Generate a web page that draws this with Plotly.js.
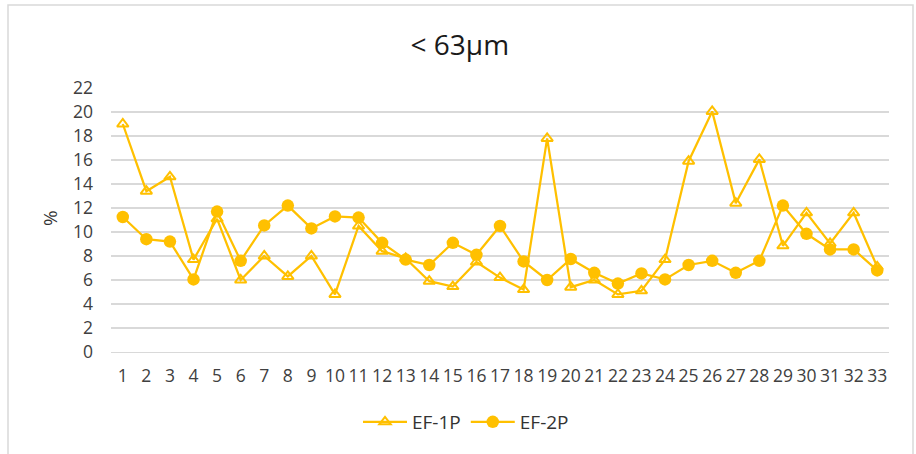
<!DOCTYPE html>
<html>
<head>
<meta charset="utf-8">
<script src="https://cdn.plot.ly/plotly-3.0.1.min.js"></script>
<style>
  html, body { margin: 0; padding: 0; background: #ffffff; }
  #chart { width: 916px; height: 454px; }
</style>
</head>
<body>
<div id="chart"></div>
<script>
const categories = ["1","2","3","4","5","6","7","8","9","10","11","12","13","14","15","16","17","18","19","20","21","22","23","24","25","26","27","28","29","30","31","32","33"];
const ef1p = [19.0, 13.4, 14.6, 7.7, 11.1, 6.0, 8.0, 6.3, 8.0, 4.8, 10.5, 8.4, 7.8, 5.9, 5.45, 7.5, 6.2, 5.2, 17.8, 5.4, 6.0, 4.8, 5.1, 7.7, 15.9, 20.05, 12.4, 16.05, 8.85, 11.6, 9.05, 11.6, 7.1];
const ef2p = [11.25, 9.4, 9.2, 6.05, 11.7, 7.6, 10.55, 12.2, 10.3, 11.3, 11.2, 9.1, 7.7, 7.25, 9.1, 8.1, 10.5, 7.55, 6.0, 7.75, 6.6, 5.7, 6.55, 6.05, 7.25, 7.6, 6.6, 7.6, 12.2, 9.85, 8.55, 8.55, 6.8];
const yTicks = [0, 2, 4, 6, 8, 10, 12, 14, 16, 18, 20, 22];

const gold = '#FFC000';
const FONT = '"Open Sans", Lato, sans-serif';

const traces = [
  {
    x: categories, y: ef1p, name: 'EF-1P', type: 'scatter', mode: 'lines+markers',
    line: { color: gold, width: 2.25 },
    marker: { symbol: 'triangle-up-open', size: 10, color: gold, line: { color: gold, width: 2 } }
  },
  {
    x: categories, y: ef2p, name: 'EF-2P', type: 'scatter', mode: 'lines+markers',
    line: { color: gold, width: 2.25 },
    marker: { symbol: 'circle', size: 12.5, color: gold, line: { width: 0 } }
  }
];

const L = 111, R = 889, T = 88, B = 352;
const pw = R - L, ph = B - T;
const px = v => (v - L) / pw;
const py = v => (B - v) / ph;

const layout = {
  width: 916, height: 454,
  margin: { l: L, r: 916 - R, t: T, b: 454 - B, pad: 0 },
  paper_bgcolor: '#ffffff', plot_bgcolor: '#ffffff',
  font: { family: FONT, color: '#404040', size: 17 },
  title: {
    text: '&lt; 63µm', x: 0.502, xanchor: 'center', y: 1 - 45 / 454, yanchor: 'middle',
    font: { family: FONT, size: 28, color: '#1a1a1a' }
  },
  showlegend: true,
  legend: {
    orientation: 'h', x: px(466), xanchor: 'center', y: py(422), yanchor: 'middle',
    font: { family: FONT, size: 19, color: '#333333' }, bgcolor: 'rgba(0,0,0,0)',
    itemwidth: 44, tracegroupgap: 0
  },
  xaxis: {
    type: 'category', range: [-0.5, 32.5], showgrid: false, zeroline: false,
    showline: true, linecolor: '#D9D9D9', linewidth: 1.3, ticks: '',
    tickfont: { family: FONT, size: 17.5, color: '#404040' }, ticklabelstandoff: 8,
    fixedrange: true
  },
  yaxis: {
    range: [0, 22], tickvals: yTicks, ticktext: yTicks.map(String),
    showgrid: true, gridcolor: '#D9D9D9', gridwidth: 1.3, zeroline: false,
    showline: false, ticks: '', tickfont: { family: FONT, size: 17.5, color: '#404040' },
    ticklabelstandoff: 17, fixedrange: true
  },
  annotations: [
    { text: '%', xref: 'paper', yref: 'paper', x: px(50), y: py(218), xanchor: 'center', yanchor: 'middle',
      textangle: -90, showarrow: false, font: { family: FONT, size: 19, color: '#333333' } }
  ],
  shapes: [
    { type: 'rect', xref: 'paper', yref: 'paper', x0: px(8), x1: px(913), y0: py(470), y1: py(5),
      line: { color: '#D9D9D9', width: 1.5 }, fillcolor: 'rgba(0,0,0,0)', layer: 'below' }
  ]
};

Plotly.newPlot('chart', traces, layout, { displayModeBar: false, staticPlot: true });
</script>
</body>
</html>
